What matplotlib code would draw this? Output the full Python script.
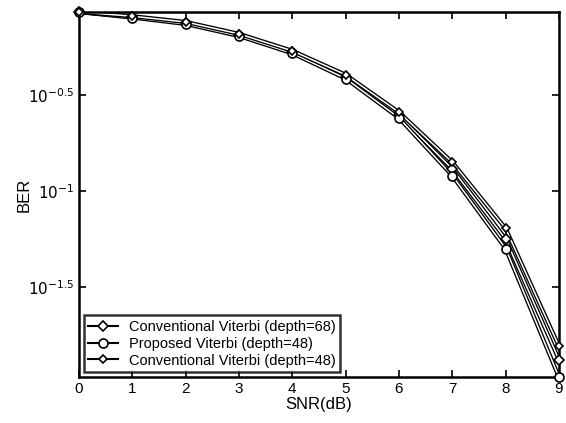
import matplotlib.pyplot as plt
import matplotlib.patheffects as pe
from matplotlib.lines import Line2D

plt.rcParams['font.family'] = ['Liberation Sans', 'DejaVu Sans']

snr = [0, 1, 2, 3, 4, 5, 6, 7, 8, 9]
ber_conv68 = [0.855, 0.805, 0.750, 0.649, 0.530, 0.394, 0.248, 0.130, 0.0562, 0.0132]
ber_prop48 = [0.855, 0.800, 0.741, 0.641, 0.521, 0.385, 0.240, 0.120, 0.0501, 0.0107]
ber_conv48 = [0.855, 0.813, 0.759, 0.658, 0.537, 0.403, 0.257, 0.141, 0.0638, 0.0155]

ytick_pos = [10 ** -0.5, 10 ** -1, 10 ** -1.5]
ytick_lab = [r'$10^{-0.5}$', r'$10^{-1}$', r'$10^{-1.5}$']

fig = plt.figure(figsize=(5.66, 4.23), dpi=100)
ax = fig.add_axes([0.1396, 0.1087, 0.848, 0.8629])

# scanned thick lines look hollow: black stroke with a white core
hollow = [pe.Stroke(linewidth=3.0, foreground='black'), pe.Normal()]

series = [
    (ber_conv68, 'D', 5.5, 'Conventional Viterbi (depth=68)'),
    (ber_prop48, 'o', 6.5, 'Proposed Viterbi (depth=48)'),
    (ber_conv48, 'D', 4.5, 'Conventional Viterbi (depth=48)'),
]
handles = []
for ber, mk, ms, lab in series:
    ax.plot(snr, ber, color='white', lw=1.1, path_effects=hollow, zorder=2)
    ax.plot(snr, ber, ls='none', marker=mk, ms=ms, mfc='white', mec='black',
            mew=1.2, clip_on=False, zorder=3)
    handles.append(Line2D([], [], color='black', lw=1.5, marker=mk, ms=ms,
                          mfc='white', mec='black', mew=1.2, label=lab))

ax.set_yscale('log')
ax.set_xlim(0, 9)
ax.set_ylim(10 ** -1.969, 10 ** -0.068)
ax.set_xticks(snr)
ax.set_yticks(ytick_pos)
ax.set_yticklabels(ytick_lab)
ax.minorticks_off()
ax.tick_params(direction='in', top=True, right=True, length=5, width=1.2, labelsize=11)
for s in ax.spines.values():
    s.set_linewidth(1.8)

ax.set_xlabel('SNR(dB)', fontsize=12, labelpad=1)
ax.set_ylabel('BER', fontsize=12, labelpad=-3)

leg = ax.legend(handles=handles, loc='lower left', fontsize=10.5, frameon=True,
                fancybox=False, edgecolor='black', borderpad=0.3, labelspacing=0.2,
                handlelength=2.0, borderaxespad=0.35)
leg.get_frame().set_linewidth(1.8)

plt.savefig('out.png', dpi=100)
